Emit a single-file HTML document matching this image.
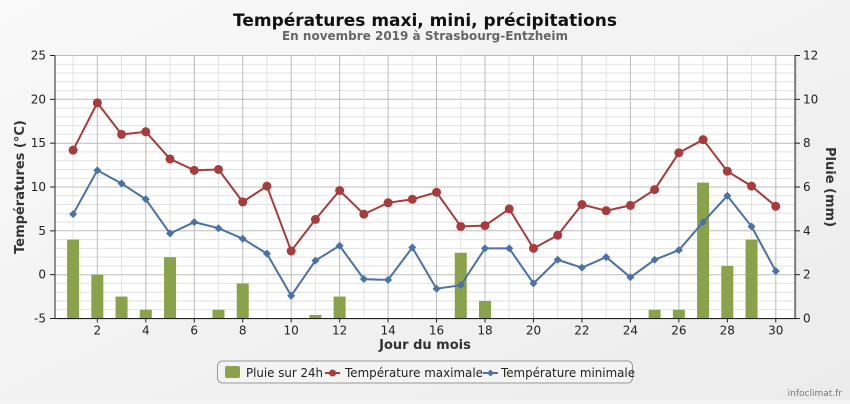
<!DOCTYPE html>
<html><head><meta charset="utf-8"><style>
body{margin:0;width:850px;height:400px;overflow:hidden;background:#f4f4f4;font-family:"DejaVu Sans","Liberation Sans",sans-serif}
</style></head><body>
<svg id="s" width="850" height="400" xmlns="http://www.w3.org/2000/svg" font-family="DejaVu Sans, Liberation Sans, sans-serif">
<defs><linearGradient id="bg" x1="0" y1="0" x2="1" y2="1"><stop offset="0" stop-color="#f9f9f9"/><stop offset="1" stop-color="#ececec"/></linearGradient></defs>
<rect width="850" height="400" fill="url(#bg)"/>
<text x="425" y="26" text-anchor="middle" font-size="17" font-weight="bold" fill="#111">Températures maxi, mini, précipitations</text>
<text x="425" y="40" text-anchor="middle" font-size="12" font-weight="bold" fill="#666">En novembre 2019 à Strasbourg-Entzheim</text>
<rect x="57" y="57" width="740" height="263" fill="#ccc" opacity="0.6"/>
<rect x="55" y="55.5" width="740" height="263" fill="#fff"/>
<g id="g"></g>
<text transform="translate(24,187) rotate(-90)" text-anchor="middle" font-size="13" font-weight="bold" fill="#333">Températures (°C)</text>
<text transform="translate(826,187) rotate(90)" text-anchor="middle" font-size="13" font-weight="bold" fill="#333">Pluie (mm)</text>
<text x="425" y="349" text-anchor="middle" font-size="13" font-weight="bold" fill="#333">Jour du mois</text>
<rect x="217.5" y="361" width="415" height="22" rx="5" fill="#f4f4f4" stroke="#999"/>
<rect x="225" y="366" width="15" height="12" rx="2" fill="#8aa34a"/>
<text x="246" y="377" font-size="12" fill="#222" textLength="77" lengthAdjust="spacingAndGlyphs">Pluie sur 24h</text>
<line x1="325" y1="373" x2="340" y2="373" stroke="#a83c3c" stroke-width="2"/><circle cx="332.5" cy="373" r="3.5" fill="#a83c3c"/>
<text x="345" y="377" font-size="12" fill="#222" textLength="138" lengthAdjust="spacingAndGlyphs">Température maximale</text>
<line x1="483" y1="373" x2="498" y2="373" stroke="#4a72a8" stroke-width="2"/><path d="M490.5 369.5l3.5 3.5-3.5 3.5-3.5-3.5z" fill="#4a72a8"/>
<text x="501" y="377" font-size="12" fill="#222" textLength="134" lengthAdjust="spacingAndGlyphs">Température minimale</text>
<text x="842" y="396" text-anchor="end" font-size="9" fill="#777">infoclimat.fr</text>
</svg>
<script>
var g=document.getElementById('g'),h='';
var L=55,R=795,T=55.5,B=318.5;
function X(d){return 73.1+(d-1)*24.23}
function Y(t){return T+(25-t)*(B-T)/30}
for(var t=-5;t<=25;t++){var y=Y(t).toFixed(1);h+='<line x1="'+L+'" x2="'+R+'" y1="'+y+'" y2="'+y+'" stroke="'+(t%5==0?'#bbb':'#e2e2e2')+'"/>';}
for(var d=1;d<=30;d++){var x=X(d).toFixed(1);h+='<line y1="'+T+'" y2="'+B+'" x1="'+x+'" x2="'+x+'" stroke="'+(d%2==0?'#bbb':'#e2e2e2')+'"/>';}
var rain={1:3.6,2:2,3:1,4:0.4,5:2.8,7:0.4,8:1.6,11:0.16,12:1,17:3,18:0.8,25:0.4,26:0.4,27:6.2,28:2.4,29:3.6};
for(var k in rain){var hh=rain[k]*(B-T)/12;h+='<rect x="'+(X(+k)-6)+'" y="'+(B-hh)+'" width="12" height="'+hh+'" fill="#8aa34a"/>';}
var mx=[14.2,19.6,16,16.3,13.2,11.9,12,8.3,10.1,2.7,6.3,9.6,6.9,8.2,8.6,9.4,5.5,5.6,7.5,3,4.5,8,7.3,7.9,9.7,13.9,15.4,11.8,10.1,7.8];
var mn=[6.9,11.9,10.4,8.6,4.7,6,5.3,4.1,2.4,-2.4,1.6,3.3,-0.5,-0.6,3.1,-1.6,-1.2,3,3,-1,1.7,0.8,2,-0.3,1.7,2.8,6,9,5.5,0.4];
function line(a,c){return '<polyline fill="none" stroke="'+c+'" stroke-width="2" points="'+a.map(function(v,i){return X(i+1).toFixed(1)+','+Y(v).toFixed(1)}).join(' ')+'"/>';}
h+=line(mx,'#a83c3c');mx.forEach(function(v,i){h+='<circle cx="'+X(i+1)+'" cy="'+Y(v)+'" r="4.5" fill="#a83c3c"/>';});
h+=line(mn,'#4a72a8');mn.forEach(function(v,i){var x=X(i+1),y=Y(v);h+='<path d="M'+x+' '+(y-4)+'l4 4-4 4-4-4z" fill="#4a72a8"/>';});
h+='<line x1="'+L+'" x2="'+L+'" y1="'+T+'" y2="'+B+'" stroke="#222"/><line x1="'+R+'" x2="'+R+'" y1="'+T+'" y2="'+B+'" stroke="#222"/><line x1="'+L+'" x2="'+R+'" y1="'+B+'" y2="'+B+'" stroke="#222"/>';
for(var t=-5;t<=25;t+=5){var y=Y(t);h+='<line x1="'+(L-5)+'" x2="'+L+'" y1="'+y+'" y2="'+y+'" stroke="#222"/><text x="'+(L-9)+'" y="'+(y+4)+'" text-anchor="end" font-size="12" fill="#222">'+t+'</text>';}
for(var m=0;m<=12;m+=2){var y=B-m*(B-T)/12;h+='<line x1="'+R+'" x2="'+(R+5)+'" y1="'+y+'" y2="'+y+'" stroke="#222"/><text x="'+(R+8)+'" y="'+(y+4)+'" font-size="12" fill="#222">'+m+'</text>';}
for(var d=2;d<=30;d+=2){var x=X(d);h+='<line x1="'+x+'" x2="'+x+'" y1="'+B+'" y2="'+(B+4)+'" stroke="#222"/><text x="'+x+'" y="'+(B+16)+'" text-anchor="middle" font-size="12" fill="#222">'+d+'</text>';}
g.innerHTML=h;
</script>
</body></html>
